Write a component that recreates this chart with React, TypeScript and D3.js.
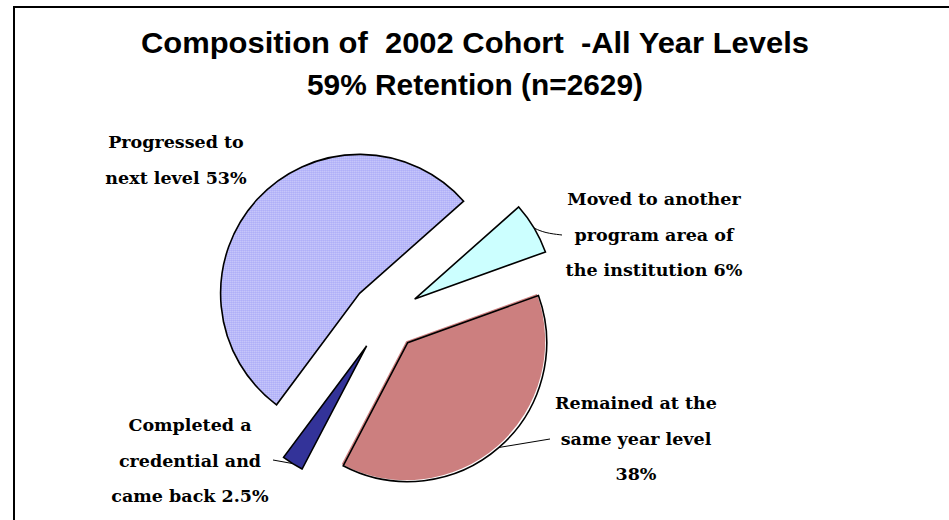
import React from "react";
import * as d3 from "d3";

const titleLines = ["Composition of  2002 Cohort  -All Year Levels", "59% Retention (n=2629)"];
const categories = ["Progressed", "Moved", "Remained", "Completed"];
const values = [53, 6, 38, 2.5];
const labelLines = [
  ["Progressed to", "next level 53%"],
  ["Moved to another", "program area of", "the institution 6%"],
  ["Remained at the", "same year level", "38%"],
  ["Completed a", "credential and", "came back 2.5%"],
];
const colors = ["url(#dots)", "#ccffff", "#cc7f7f", "#333399"];

// layout
const W = 949, H = 520;
const cx = 385, cy = 316.7, R = 139, explode = 34.5;
const startDeg = 216.7;
const labelPos = [
  { x: 176, y: 148 },
  { x: 654, y: 205 },
  { x: 636, y: 409 },
  { x: 190, y: 431 },
];
const lineH = 35.5;
const leaders = [
  null,
  { mid: [545, 233], end: [562, 235] },
  { mid: null, end: [550, 439] },
  { mid: null, end: [273, 460] },
];

export default function App() {
  const pie = d3
    .pie<number>()
    .sort(null)
    .value((d) => d)
    .startAngle((startDeg * Math.PI) / 180)
    .endAngle((startDeg * Math.PI) / 180 + 2 * Math.PI);
  const arcs = pie(values);
  const arc = d3.arc<d3.PieArcDatum<number>>().innerRadius(0).outerRadius(R);

  return (
    <svg
      width={W}
      height={H}
      style={{ position: "absolute", left: 0, top: 0, background: "#fff" }}
    >
      <defs>
        <pattern id="dots" width="2" height="2" patternUnits="userSpaceOnUse">
          <rect width="2" height="2" fill="#a3a3f7" />
          <rect width="1" height="1" fill="#ffffff" />
        </pattern>
      </defs>
      <rect x={14} y={7} width={1000} height={600} fill="#fff" stroke="#000" strokeWidth={2} />
      {titleLines.map((t, i) => (
        <text
          key={i}
          x={475}
          y={i === 0 ? 53 : 95}
          textAnchor="middle"
          fontFamily="'Liberation Sans', Arial, sans-serif"
          fontWeight="bold"
          fontSize={30}
          textLength={i === 0 ? 668 : 336}
          lengthAdjust="spacingAndGlyphs"
          style={{ whiteSpace: "pre" }}
        >
          {t}
        </text>
      ))}
      {arcs.map((a, i) => {
        const mid = (a.startAngle + a.endAngle) / 2;
        const ox = cx + explode * Math.sin(mid);
        const oy = cy - explode * Math.cos(mid);
        const d = arc(a) || "";
        const tipX = ox + R * Math.sin(mid);
        const tipY = oy - R * Math.cos(mid);
        const ld = leaders[i];
        let leaderPath = "";
        if (ld) {
          const pts: number[][] = [[tipX, tipY]];
          if (ld.mid) pts.push(ld.mid);
          pts.push(ld.end);
          leaderPath = (ld.mid ? d3.line().curve(d3.curveBasis) : d3.line())(pts as [number, number][]) || "";
        }
        return (
          <g key={categories[i]}>
            {i === 2 ? (
              <>
                <path d={d} transform={`translate(${ox - 1.5},${oy - 1.5})`} fill={colors[i]} />
                <path d={d} transform={`translate(${ox},${oy})`} fill="none" stroke="#000" strokeWidth={1.6} />
              </>
            ) : (
              <path d={d} transform={`translate(${ox},${oy})`} fill={colors[i]} stroke="#000" strokeWidth={1.6} />
            )}
            {leaderPath && <path d={leaderPath} fill="none" stroke="#000" strokeWidth={1} />}
          </g>
        );
      })}
      {labelLines.map((lines, i) => (
        <text
          key={i}
          textAnchor="middle"
          fontFamily="'DejaVu Serif', serif"
          fontWeight="bold"
          fontSize={17.5}
          fill="#000"
        >
          {lines.map((l, j) => (
            <tspan key={j} x={labelPos[i].x} y={labelPos[i].y + j * lineH}>
              {l}
            </tspan>
          ))}
        </text>
      ))}
    </svg>
  );
}
